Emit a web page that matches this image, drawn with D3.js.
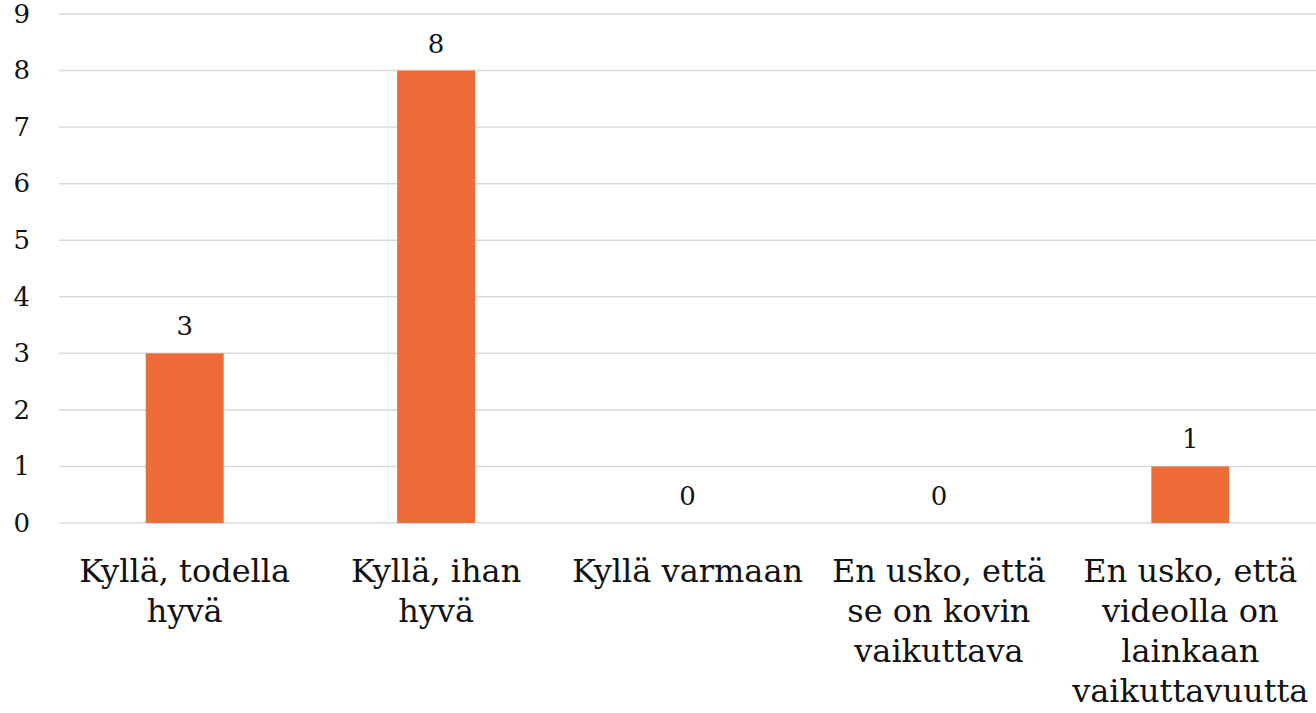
<!DOCTYPE html>
<html>
<head>
<meta charset="utf-8">
<script src="https://cdn.jsdelivr.net/npm/d3@7"></script>
<style>
  html, body { margin: 0; padding: 0; background: #fff; }
  svg { display: block; font-family: "DejaVu Serif", "Liberation Serif", serif; }
</style>
</head>
<body>
<svg id="chart"></svg>
<script>
// data
const categories = [
  "Kyllä, todella\nhyvä",
  "Kyllä, ihan\nhyvä",
  "Kyllä varmaan",
  "En usko, että\nse on kovin\nvaikuttava",
  "En usko, että\nvideolla on\nlainkaan\nvaikuttavuutta"
];
const values = [3, 8, 0, 0, 1];
const yTicks = [0, 1, 2, 3, 4, 5, 6, 7, 8, 9];

const W = 1316, H = 713;
const MARGIN = {TOP: 14, BOTTOM: 190, LEFT: 59, RIGHT: 0};

const svg = d3.select("#chart").attr("width", W).attr("height", H);

const xScale = d3.scaleBand()
  .domain(categories)
  .range([MARGIN.LEFT, W - MARGIN.RIGHT])
  .paddingInner(0.69)
  .paddingOuter(0.345);

const yScale = d3.scaleLinear()
  .domain([0, 9])
  .range([H - MARGIN.BOTTOM, MARGIN.TOP]);

// gridlines
svg.append("g")
  .selectAll("line")
  .data(yTicks)
  .join("line")
  .attr("x1", MARGIN.LEFT)
  .attr("x2", W - MARGIN.RIGHT)
  .attr("y1", d => yScale(d))
  .attr("y2", d => yScale(d))
  .attr("stroke", "#d9d9d9")
  .attr("stroke-width", 1.5);

// y axis labels
const yAxis = svg.append("g")
  .attr("transform", "translate(" + (MARGIN.LEFT - 29) + ",0)")
  .call(d3.axisLeft(yScale).tickValues(yTicks).tickSize(0).tickPadding(0).tickFormat(d3.format("d")));
yAxis.select(".domain").remove();
yAxis.attr("font-family", null).attr("font-size", null);
yAxis.selectAll("text")
  .attr("font-size", "26px")
  .attr("fill", "#111");

// bars
svg.append("g")
  .selectAll("rect")
  .data(values)
  .join("rect")
  .attr("x", (d, i) => xScale(categories[i]))
  .attr("width", xScale.bandwidth())
  .attr("y", d => yScale(d))
  .attr("height", d => yScale(0) - yScale(d))
  .attr("fill", "#ed6c37");

// value labels
svg.append("g")
  .selectAll("text")
  .data(values)
  .join("text")
  .attr("x", (d, i) => xScale(categories[i]) + xScale.bandwidth() / 2)
  .attr("y", d => yScale(d) - 18)
  .attr("text-anchor", "middle")
  .attr("font-size", "26px")
  .attr("fill", "#111")
  .text(d => d);

// category labels
const xLabels = svg.append("g")
  .selectAll("text")
  .data(categories)
  .join("text")
  .attr("x", d => xScale(d) + xScale.bandwidth() / 2)
  .attr("y", yScale(0) + 59)
  .attr("text-anchor", "middle")
  .attr("font-size", "32px")
  .attr("fill", "#111");

xLabels.selectAll("tspan")
  .data(d => d.split("\n"))
  .join("tspan")
  .attr("x", function() { return this.parentNode.getAttribute("x"); })
  .attr("dy", (d, i) => i === 0 ? 0 : 40)
  .text(d => d);
</script>
</body>
</html>
